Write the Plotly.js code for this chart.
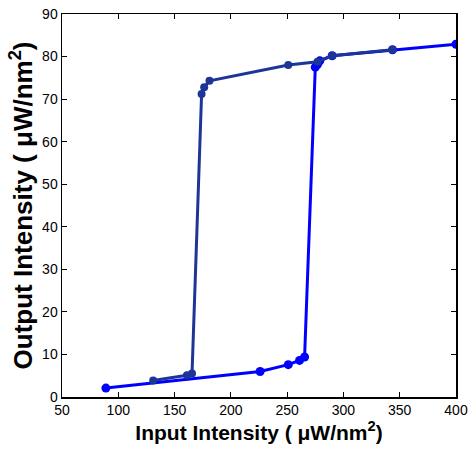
<!DOCTYPE html>
<html>
<head>
<meta charset="utf-8">
<script src="https://cdn.plot.ly/plotly-3.0.1.min.js"></script>
<style>html,body{margin:0;padding:0;background:#fff}#chart{width:468px;height:451px}</style>
</head>
<body>
<div id="chart"></div>
<script>
// Increasing-input branch (bright blue)
const upX = [89, 226, 251, 261, 265.5, 275, 277, 279, 290, 343.6, 400];
const upY = [2.1, 6.0, 7.6, 8.6, 9.4, 77.5, 78.2, 79.0, 80.2, 81.6, 82.9];
// Decreasing-input branch (dark blue)
const downX = [343.6, 290, 277, 251, 181, 176.3, 174, 165.5, 161, 131];
const downY = [81.6, 80.2, 78.8, 78.0, 74.3, 72.8, 71.2, 5.5, 5.1, 3.9];

const xTicks = [50, 100, 150, 200, 250, 300, 350, 400];
const yTicks = [0, 10, 20, 30, 40, 50, 60, 70, 80, 90];

const font = 'Liberation Sans, Arial, sans-serif';

const traces = [
  {x: upX, y: upY, mode: 'lines+markers', type: 'scatter',
   line: {color: '#0000ff', width: 3}, marker: {color: '#0000ff', size: 9}},
  {x: downX, y: downY, mode: 'lines+markers', type: 'scatter',
   line: {color: '#1c3596', width: 3}, marker: {color: '#1c3596', size: 8}}
];

const axisCommon = {
  showline: true, mirror: 'ticks', linecolor: '#000', linewidth: 1.5,
  ticks: 'inside', ticklen: 5, tickwidth: 1.2, tickcolor: '#000',
  showgrid: false, zeroline: false,
  tickfont: {family: font, size: 14, color: '#000'}
};

const layout = {
  width: 468, height: 451,
  margin: {l: 62, r: 12, t: 14, b: 54},
  paper_bgcolor: '#fff', plot_bgcolor: '#fff',
  showlegend: false,
  xaxis: Object.assign({}, axisCommon, {
    range: [50, 400], tickvals: xTicks, ticktext: xTicks.map(String),
    title: {text: '<b>Input Intensity ( \u03bcW/nm<sup>2</sup>)</b>', font: {family: font, size: 21, color: '#000'}, standoff: 4}
  }),
  yaxis: Object.assign({}, axisCommon, {
    range: [0, 90], tickvals: yTicks, ticktext: yTicks.map(String),
    title: {text: '<b>Output Intensity ( \u03bcW/nm<sup>2</sup>)</b>', font: {family: font, size: 26, color: '#000'}, standoff: 2}
  })
};

Plotly.newPlot('chart', traces, layout, {displayModeBar: false, staticPlot: true});
</script>
</body>
</html>
